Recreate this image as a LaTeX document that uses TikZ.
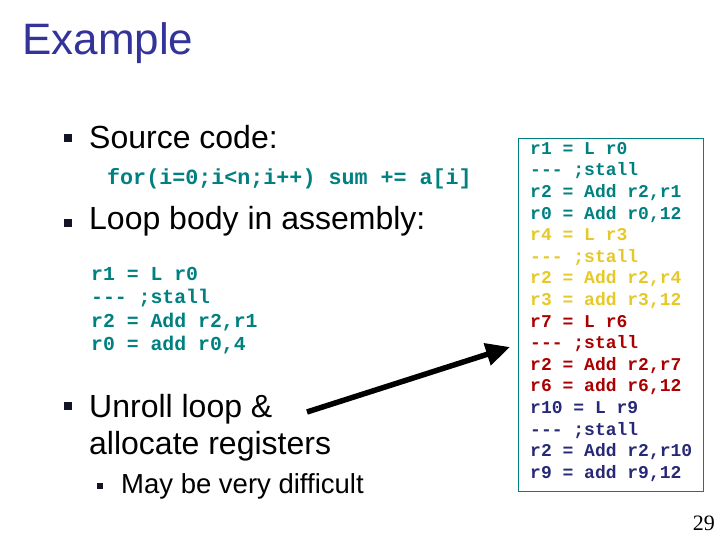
\documentclass[tikz,border=0pt]{standalone}
\usepackage{fontspec}
\setmainfont{Liberation Sans}
\newfontfamily\codefont{Liberation Mono}
\newfontfamily\numfont{Liberation Serif}
\usetikzlibrary{arrows.meta}
\definecolor{tealc}{RGB}{0,128,128}
\definecolor{goldc}{RGB}{230,200,40}
\definecolor{redc}{RGB}{170,0,0}
\definecolor{navyc}{RGB}{40,40,120}
\definecolor{titlec}{RGB}{51,51,153}
\definecolor{bulc}{RGB}{20,20,40}
\tikzset{
 bullet/.style={fill=bulc,minimum size=8pt,inner sep=0pt},
 sbullet/.style={fill=bulc,minimum size=6pt,inner sep=0pt},
 btext/.style={anchor=west,inner sep=0pt,font=\fontsize{32}{37}\selectfont,align=left},
 code/.style={anchor=north west,inner sep=0pt,font=\codefont\bfseries\fontsize{18}{21.6}\selectfont,align=left},
}
\begin{document}
\begin{tikzpicture}[x=1pt,y=-1pt]
\useasboundingbox (0,0) rectangle (720,540);
\node[anchor=west,inner sep=0pt,text=titlec,font=\fontsize{44}{52}\selectfont] (title) at (22,43) {Example};
\node[bullet] (b1) at (68,138) {};
\node[btext] (t1) at (89,137) {Source code:};
\node[anchor=west,inner sep=0pt,text=tealc,font=\codefont\bfseries\fontsize{21.7}{25}\selectfont] (for) at (107,179) {for(i=0;i<n;i++) sum += a[i]};
\node[bullet] (b2) at (68,223) {};
\node[btext] (t2) at (89,221) {Loop body in assembly:};
\node[code,text=tealc,font=\codefont\bfseries\fontsize{19.8}{23.5}\selectfont] (asm) at (91,267) {r1 = L r0\\--- ;stall\\r2 = Add r2,r1\\r0 = add r0,4};
\node[bullet] (b3) at (68,406) {};
\node[btext,anchor=north west] (t3) at (89,394) {Unroll loop \&\\allocate registers};
\node[sbullet] (b4) at (100,486) {};
\node[anchor=west,inner sep=0pt,font=\fontsize{27.5}{32}\selectfont] (t4) at (121,486) {May be very difficult};
\draw[tealc,line width=0.8pt] (518,138) rectangle (703,491);
\node[code] (box) at (530,142) {\textcolor{tealc}{r1 = L r0}\\\textcolor{tealc}{--- ;stall}\\\textcolor{tealc}{r2 = Add r2,r1}\\\textcolor{tealc}{r0 = Add r0,12}\\
\textcolor{goldc}{r4 = L r3}\\\textcolor{goldc}{--- ;stall}\\\textcolor{goldc}{r2 = Add r2,r4}\\\textcolor{goldc}{r3 = add r3,12}\\
\textcolor{redc}{r7 = L r6}\\\textcolor{redc}{--- ;stall}\\\textcolor{redc}{r2 = Add r2,r7}\\\textcolor{redc}{r6 = add r6,12}\\
\textcolor{navyc}{r10 = L r9}\\\textcolor{navyc}{--- ;stall}\\\textcolor{navyc}{r2 = Add r2,r10}\\\textcolor{navyc}{r9 = add r9,12}};
\coordinate (as) at (307,412);
\coordinate (ae) at (510,347);
\draw[line width=5.5pt,-{Triangle[length=24pt,width=22pt]}] (as) -- (ae);
\node[anchor=east,inner sep=0pt,font=\numfont\fontsize{22}{26}\selectfont] (pg) at (715,523) {29};
\end{tikzpicture}
\end{document}
